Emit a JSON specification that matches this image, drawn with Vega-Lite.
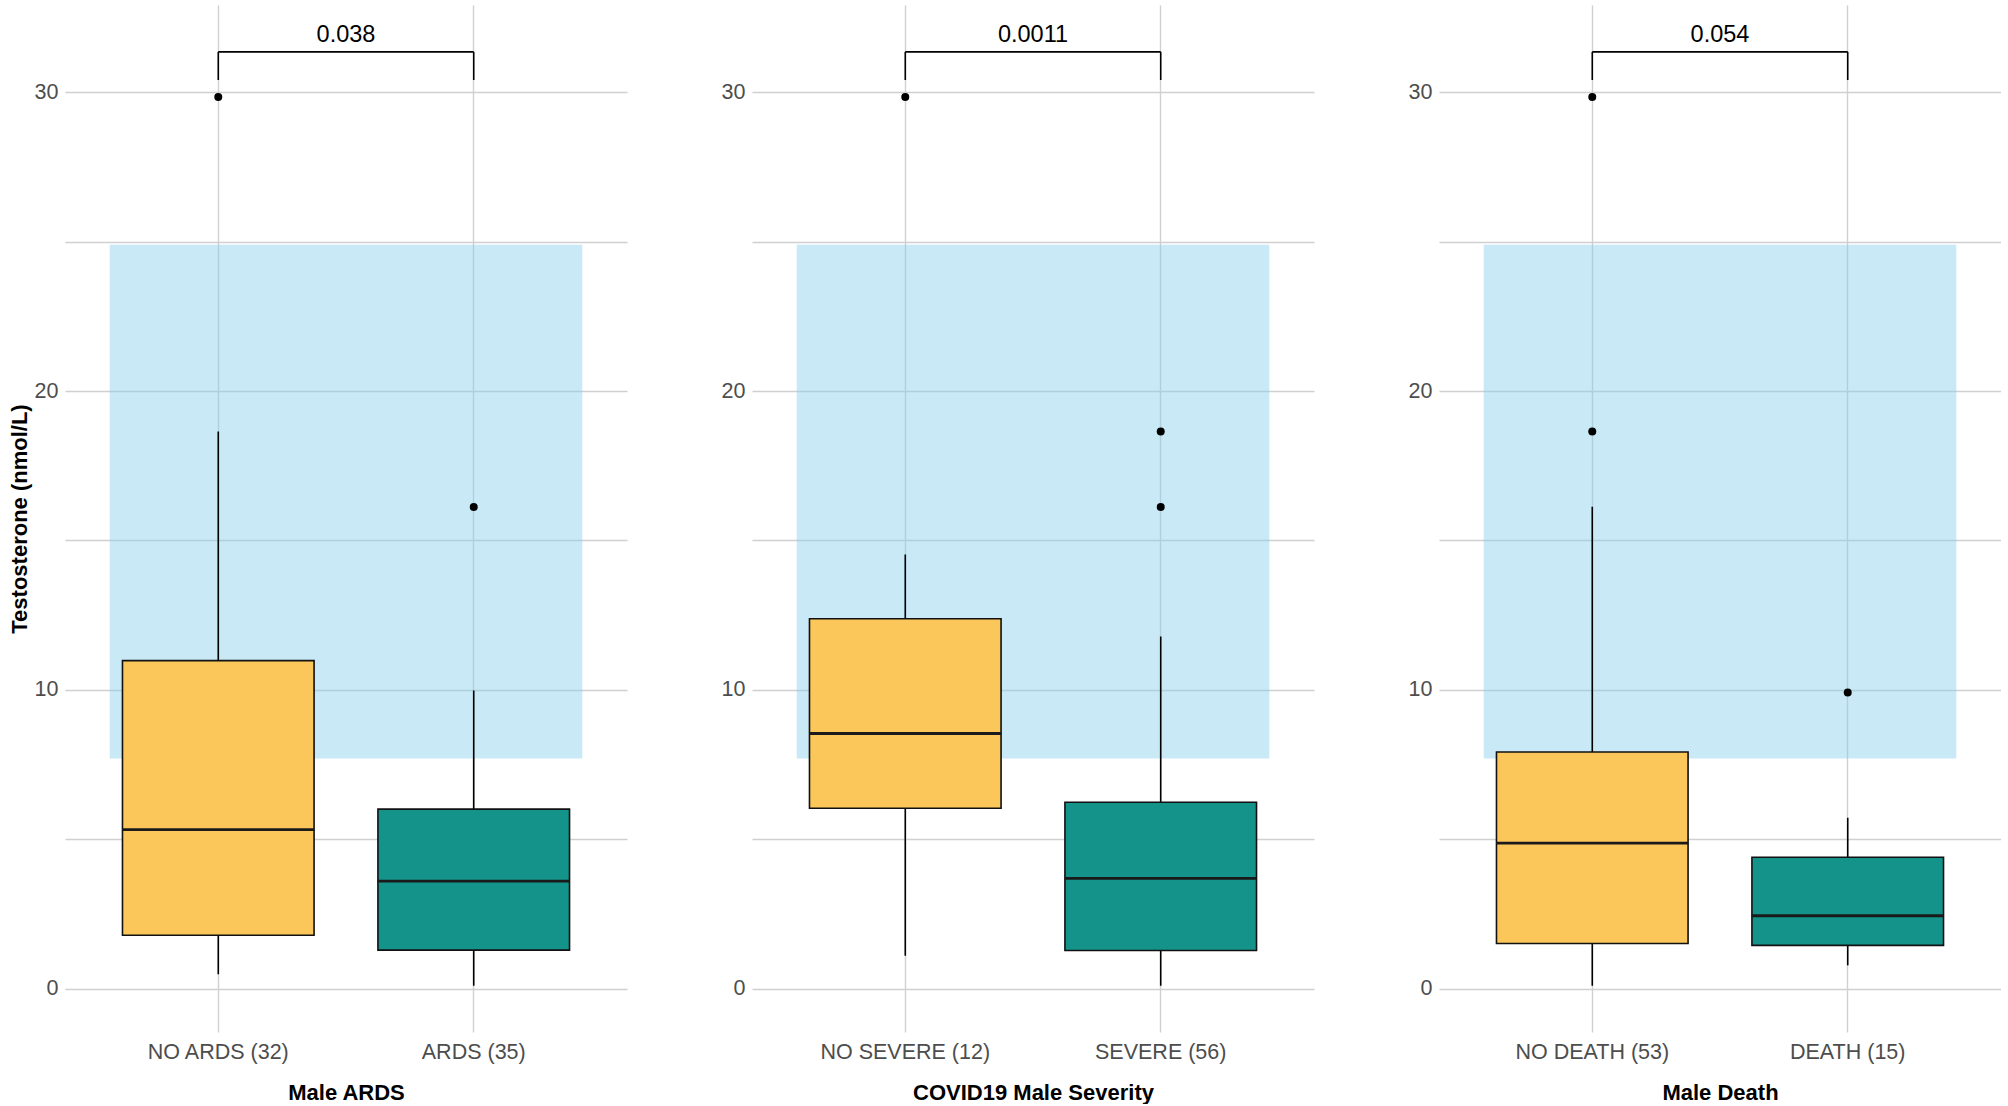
{
  "$schema": "https://vega.github.io/schema/vega-lite/v6.json",
  "background": "white",
  "padding": {"left": 8, "top": 5, "right": 0, "bottom": 0},
  "spacing": 125,
  "bounds": "flush",
  "datasets": {
    "boxes": [
      {"panel": "ARDS", "group": "NO ARDS (32)", "cls": "no", "lower": 0.48, "q1": 1.79, "median": 5.32, "q3": 10.98, "upper": 18.65},
      {"panel": "ARDS", "group": "ARDS (35)", "cls": "yes", "lower": 0.1, "q1": 1.29, "median": 3.6, "q3": 6.01, "upper": 9.98},
      {"panel": "SEV", "group": "NO SEVERE (12)", "cls": "no", "lower": 1.1, "q1": 6.04, "median": 8.54, "q3": 12.38, "upper": 14.53},
      {"panel": "SEV", "group": "SEVERE (56)", "cls": "yes", "lower": 0.1, "q1": 1.28, "median": 3.69, "q3": 6.24, "upper": 11.79},
      {"panel": "DEATH", "group": "NO DEATH (53)", "cls": "no", "lower": 0.1, "q1": 1.51, "median": 4.87, "q3": 7.92, "upper": 16.13},
      {"panel": "DEATH", "group": "DEATH (15)", "cls": "yes", "lower": 0.78, "q1": 1.45, "median": 2.44, "q3": 4.4, "upper": 5.72}
    ],
    "outliers": [
      {"panel": "ARDS", "group": "NO ARDS (32)", "value": 29.84},
      {"panel": "ARDS", "group": "ARDS (35)", "value": 16.12},
      {"panel": "SEV", "group": "NO SEVERE (12)", "value": 29.84},
      {"panel": "SEV", "group": "SEVERE (56)", "value": 18.65},
      {"panel": "SEV", "group": "SEVERE (56)", "value": 16.12},
      {"panel": "DEATH", "group": "NO DEATH (53)", "value": 29.84},
      {"panel": "DEATH", "group": "NO DEATH (53)", "value": 18.65},
      {"panel": "DEATH", "group": "DEATH (15)", "value": 9.91}
    ],
    "refs": [
      {"panel": "ARDS", "x0": 0.575, "x1": 2.425, "lo": 7.7, "hi": 24.9},
      {"panel": "SEV", "x0": 0.575, "x1": 2.425, "lo": 7.7, "hi": 24.9},
      {"panel": "DEATH", "x0": 0.575, "x1": 2.425, "lo": 7.7, "hi": 24.9}
    ],
    "tests": [
      {"panel": "ARDS", "p": "0.038", "start": 1, "end": 2, "mid": 1.5, "bottom": 30.41, "top": 31.35, "label_y": 31.92},
      {"panel": "SEV", "p": "0.0011", "start": 1, "end": 2, "mid": 1.5, "bottom": 30.41, "top": 31.35, "label_y": 31.92},
      {"panel": "DEATH", "p": "0.054", "start": 1, "end": 2, "mid": 1.5, "bottom": 30.41, "top": 31.35, "label_y": 31.92}
    ]
  },
  "hconcat": [
    {
      "width": 562,
      "height": 1027,
      "layer": [
        {
          "layer": [
            {
              "data": {"name": "refs"},
              "transform": [{"filter": "datum.panel === 'ARDS'"}],
              "mark": {"type": "rect", "fill": "#87ceeb", "opacity": 0.45},
              "encoding": {
                "x": {"field": "x0", "type": "quantitative", "scale": {"domain": [0.4, 2.6], "nice": false, "zero": false}, "axis": null},
                "x2": {"field": "x1"},
                "y": {"field": "lo", "type": "quantitative", "scale": {"domain": [-1.45, 32.92], "nice": false, "zero": false},
                  "axis": {"title": "Testosterone (nmol/L)", "values": [0, 5, 10, 15, 20, 25, 30], "labelExpr": "datum.value % 10 === 0 ? datum.label : ''"}},
                "y2": {"field": "hi"}
              }
            },
            {
              "data": {"name": "tests"},
              "transform": [{"filter": "datum.panel === 'ARDS'"}],
              "mark": {"type": "rule", "color": "black", "strokeWidth": 1.6},
              "encoding": {
                "x": {"field": "start", "type": "quantitative", "axis": null},
                "x2": {"field": "end"},
                "y": {"field": "top", "type": "quantitative"}
              }
            },
            {
              "data": {"name": "tests"},
              "transform": [{"filter": "datum.panel === 'ARDS'"}],
              "mark": {"type": "rule", "color": "black", "strokeWidth": 1.6},
              "encoding": {
                "x": {"field": "start", "type": "quantitative", "axis": null},
                "y": {"field": "bottom", "type": "quantitative"},
                "y2": {"field": "top"}
              }
            },
            {
              "data": {"name": "tests"},
              "transform": [{"filter": "datum.panel === 'ARDS'"}],
              "mark": {"type": "rule", "color": "black", "strokeWidth": 1.6},
              "encoding": {
                "x": {"field": "end", "type": "quantitative", "axis": null},
                "y": {"field": "bottom", "type": "quantitative"},
                "y2": {"field": "top"}
              }
            },
            {
              "data": {"name": "tests"},
              "transform": [{"filter": "datum.panel === 'ARDS'"}],
              "mark": {"type": "text", "fontSize": 23.5, "color": "black", "align": "center", "baseline": "middle"},
              "encoding": {
                "x": {"field": "mid", "type": "quantitative", "axis": null},
                "y": {"field": "label_y", "type": "quantitative"},
                "text": {"field": "p"}
              }
            }
          ]
        },
        {
          "encoding": {
            "x": {"field": "group", "type": "nominal",
              "scale": {"domain": ["NO ARDS (32)", "ARDS (35)"], "paddingInner": 0.25, "paddingOuter": 0.225},
              "axis": {"title": "Male ARDS", "grid": true, "bandPosition": 0.5}}
          },
          "layer": [
            {
              "data": {"name": "boxes"},
              "transform": [{"filter": "datum.panel === 'ARDS'"}],
              "mark": {"type": "rule", "color": "black", "strokeWidth": 1.6},
              "encoding": {
                "y": {"field": "lower", "type": "quantitative"},
                "y2": {"field": "upper"}
              }
            },
            {
              "data": {"name": "boxes"},
              "transform": [{"filter": "datum.panel === 'ARDS'"}],
              "mark": {"type": "bar", "stroke": "#111111", "strokeWidth": 1.6},
              "encoding": {
                "y": {"field": "q1", "type": "quantitative"},
                "y2": {"field": "q3"},
                "color": {"field": "cls", "type": "nominal", "scale": {"domain": ["no", "yes"], "range": ["#fbc65a", "#14938a"]}, "legend": null}
              }
            },
            {
              "data": {"name": "boxes"},
              "transform": [{"filter": "datum.panel === 'ARDS'"}],
              "mark": {"type": "tick", "color": "#1a1a1a", "thickness": 2.8, "size": 192, "orient": "horizontal", "opacity": 1},
              "encoding": {
                "y": {"field": "median", "type": "quantitative"}
              }
            },
            {
              "data": {"name": "outliers"},
              "transform": [{"filter": "datum.panel === 'ARDS'"}],
              "mark": {"type": "point", "filled": true, "color": "black", "size": 64, "opacity": 1},
              "encoding": {
                "y": {"field": "value", "type": "quantitative"}
              }
            }
          ]
        }
      ],
      "resolve": {"scale": {"x": "independent"}}
    },
    {
      "width": 562,
      "height": 1027,
      "layer": [
        {
          "layer": [
            {
              "data": {"name": "refs"},
              "transform": [{"filter": "datum.panel === 'SEV'"}],
              "mark": {"type": "rect", "fill": "#87ceeb", "opacity": 0.45},
              "encoding": {
                "x": {"field": "x0", "type": "quantitative", "scale": {"domain": [0.4, 2.6], "nice": false, "zero": false}, "axis": null},
                "x2": {"field": "x1"},
                "y": {"field": "lo", "type": "quantitative", "scale": {"domain": [-1.45, 32.92], "nice": false, "zero": false},
                  "axis": {"title": null, "values": [0, 5, 10, 15, 20, 25, 30], "labelExpr": "datum.value % 10 === 0 ? datum.label : ''"}},
                "y2": {"field": "hi"}
              }
            },
            {
              "data": {"name": "tests"},
              "transform": [{"filter": "datum.panel === 'SEV'"}],
              "mark": {"type": "rule", "color": "black", "strokeWidth": 1.6},
              "encoding": {
                "x": {"field": "start", "type": "quantitative", "axis": null},
                "x2": {"field": "end"},
                "y": {"field": "top", "type": "quantitative"}
              }
            },
            {
              "data": {"name": "tests"},
              "transform": [{"filter": "datum.panel === 'SEV'"}],
              "mark": {"type": "rule", "color": "black", "strokeWidth": 1.6},
              "encoding": {
                "x": {"field": "start", "type": "quantitative", "axis": null},
                "y": {"field": "bottom", "type": "quantitative"},
                "y2": {"field": "top"}
              }
            },
            {
              "data": {"name": "tests"},
              "transform": [{"filter": "datum.panel === 'SEV'"}],
              "mark": {"type": "rule", "color": "black", "strokeWidth": 1.6},
              "encoding": {
                "x": {"field": "end", "type": "quantitative", "axis": null},
                "y": {"field": "bottom", "type": "quantitative"},
                "y2": {"field": "top"}
              }
            },
            {
              "data": {"name": "tests"},
              "transform": [{"filter": "datum.panel === 'SEV'"}],
              "mark": {"type": "text", "fontSize": 23.5, "color": "black", "align": "center", "baseline": "middle"},
              "encoding": {
                "x": {"field": "mid", "type": "quantitative", "axis": null},
                "y": {"field": "label_y", "type": "quantitative"},
                "text": {"field": "p"}
              }
            }
          ]
        },
        {
          "encoding": {
            "x": {"field": "group", "type": "nominal",
              "scale": {"domain": ["NO SEVERE (12)", "SEVERE (56)"], "paddingInner": 0.25, "paddingOuter": 0.225},
              "axis": {"title": "COVID19 Male Severity", "grid": true, "bandPosition": 0.5}}
          },
          "layer": [
            {
              "data": {"name": "boxes"},
              "transform": [{"filter": "datum.panel === 'SEV'"}],
              "mark": {"type": "rule", "color": "black", "strokeWidth": 1.6},
              "encoding": {
                "y": {"field": "lower", "type": "quantitative"},
                "y2": {"field": "upper"}
              }
            },
            {
              "data": {"name": "boxes"},
              "transform": [{"filter": "datum.panel === 'SEV'"}],
              "mark": {"type": "bar", "stroke": "#111111", "strokeWidth": 1.6},
              "encoding": {
                "y": {"field": "q1", "type": "quantitative"},
                "y2": {"field": "q3"},
                "color": {"field": "cls", "type": "nominal", "scale": {"domain": ["no", "yes"], "range": ["#fbc65a", "#14938a"]}, "legend": null}
              }
            },
            {
              "data": {"name": "boxes"},
              "transform": [{"filter": "datum.panel === 'SEV'"}],
              "mark": {"type": "tick", "color": "#1a1a1a", "thickness": 2.8, "size": 192, "orient": "horizontal", "opacity": 1},
              "encoding": {
                "y": {"field": "median", "type": "quantitative"}
              }
            },
            {
              "data": {"name": "outliers"},
              "transform": [{"filter": "datum.panel === 'SEV'"}],
              "mark": {"type": "point", "filled": true, "color": "black", "size": 64, "opacity": 1},
              "encoding": {
                "y": {"field": "value", "type": "quantitative"}
              }
            }
          ]
        }
      ],
      "resolve": {"scale": {"x": "independent"}}
    },
    {
      "width": 562,
      "height": 1027,
      "layer": [
        {
          "layer": [
            {
              "data": {"name": "refs"},
              "transform": [{"filter": "datum.panel === 'DEATH'"}],
              "mark": {"type": "rect", "fill": "#87ceeb", "opacity": 0.45},
              "encoding": {
                "x": {"field": "x0", "type": "quantitative", "scale": {"domain": [0.4, 2.6], "nice": false, "zero": false}, "axis": null},
                "x2": {"field": "x1"},
                "y": {"field": "lo", "type": "quantitative", "scale": {"domain": [-1.45, 32.92], "nice": false, "zero": false},
                  "axis": {"title": null, "values": [0, 5, 10, 15, 20, 25, 30], "labelExpr": "datum.value % 10 === 0 ? datum.label : ''"}},
                "y2": {"field": "hi"}
              }
            },
            {
              "data": {"name": "tests"},
              "transform": [{"filter": "datum.panel === 'DEATH'"}],
              "mark": {"type": "rule", "color": "black", "strokeWidth": 1.6},
              "encoding": {
                "x": {"field": "start", "type": "quantitative", "axis": null},
                "x2": {"field": "end"},
                "y": {"field": "top", "type": "quantitative"}
              }
            },
            {
              "data": {"name": "tests"},
              "transform": [{"filter": "datum.panel === 'DEATH'"}],
              "mark": {"type": "rule", "color": "black", "strokeWidth": 1.6},
              "encoding": {
                "x": {"field": "start", "type": "quantitative", "axis": null},
                "y": {"field": "bottom", "type": "quantitative"},
                "y2": {"field": "top"}
              }
            },
            {
              "data": {"name": "tests"},
              "transform": [{"filter": "datum.panel === 'DEATH'"}],
              "mark": {"type": "rule", "color": "black", "strokeWidth": 1.6},
              "encoding": {
                "x": {"field": "end", "type": "quantitative", "axis": null},
                "y": {"field": "bottom", "type": "quantitative"},
                "y2": {"field": "top"}
              }
            },
            {
              "data": {"name": "tests"},
              "transform": [{"filter": "datum.panel === 'DEATH'"}],
              "mark": {"type": "text", "fontSize": 23.5, "color": "black", "align": "center", "baseline": "middle"},
              "encoding": {
                "x": {"field": "mid", "type": "quantitative", "axis": null},
                "y": {"field": "label_y", "type": "quantitative"},
                "text": {"field": "p"}
              }
            }
          ]
        },
        {
          "encoding": {
            "x": {"field": "group", "type": "nominal",
              "scale": {"domain": ["NO DEATH (53)", "DEATH (15)"], "paddingInner": 0.25, "paddingOuter": 0.225},
              "axis": {"title": "Male Death", "grid": true, "bandPosition": 0.5}}
          },
          "layer": [
            {
              "data": {"name": "boxes"},
              "transform": [{"filter": "datum.panel === 'DEATH'"}],
              "mark": {"type": "rule", "color": "black", "strokeWidth": 1.6},
              "encoding": {
                "y": {"field": "lower", "type": "quantitative"},
                "y2": {"field": "upper"}
              }
            },
            {
              "data": {"name": "boxes"},
              "transform": [{"filter": "datum.panel === 'DEATH'"}],
              "mark": {"type": "bar", "stroke": "#111111", "strokeWidth": 1.6},
              "encoding": {
                "y": {"field": "q1", "type": "quantitative"},
                "y2": {"field": "q3"},
                "color": {"field": "cls", "type": "nominal", "scale": {"domain": ["no", "yes"], "range": ["#fbc65a", "#14938a"]}, "legend": null}
              }
            },
            {
              "data": {"name": "boxes"},
              "transform": [{"filter": "datum.panel === 'DEATH'"}],
              "mark": {"type": "tick", "color": "#1a1a1a", "thickness": 2.8, "size": 192, "orient": "horizontal", "opacity": 1},
              "encoding": {
                "y": {"field": "median", "type": "quantitative"}
              }
            },
            {
              "data": {"name": "outliers"},
              "transform": [{"filter": "datum.panel === 'DEATH'"}],
              "mark": {"type": "point", "filled": true, "color": "black", "size": 64, "opacity": 1},
              "encoding": {
                "y": {"field": "value", "type": "quantitative"}
              }
            }
          ]
        }
      ],
      "resolve": {"scale": {"x": "independent"}}
    }
  ],
  "config": {
    "font": "Liberation Sans",
    "view": {"stroke": null},
    "axis": {
      "labelFont": "Liberation Sans",
      "labelFontSize": 21.5,
      "labelColor": "#4d4d4d",
      "titleFont": "Liberation Sans",
      "titleFontSize": 22,
      "titleFontWeight": "bold",
      "titleColor": "#000000",
      "ticks": false,
      "domain": false,
      "gridColor": "#d0d0d0",
      "gridWidth": 1.4,
      "labelPadding": 7
    },
    "axisX": {"labelPadding": 9, "titlePadding": 20, "labelAngle": 0},
    "axisY": {"titlePadding": 6, "minExtent": 28, "maxExtent": 28},
    "text": {"font": "Liberation Sans"}
  }
}
